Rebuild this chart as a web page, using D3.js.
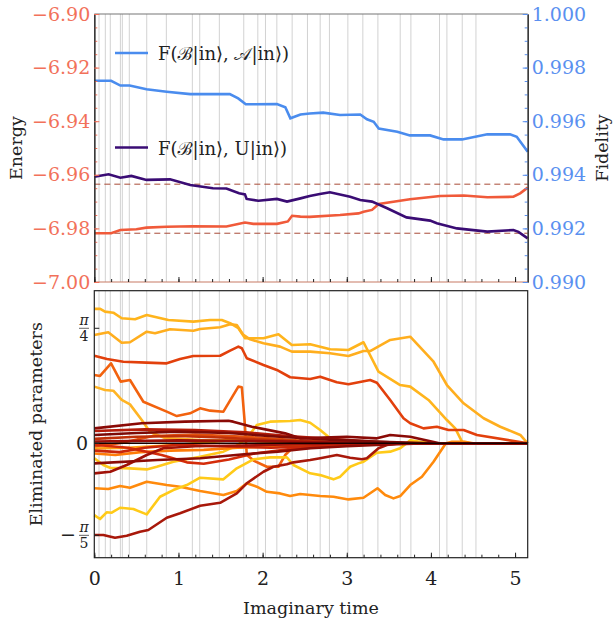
<!DOCTYPE html>
<html>
<head>
<meta charset="utf-8">
<script src="https://cdn.jsdelivr.net/npm/d3@7"></script>
<style>
  body { margin: 0; background: #fff; }
  svg { display: block; }
  text { font-family: "DejaVu Serif", "Liberation Serif", "Times New Roman", "Noto Serif", "Tinos", serif; }
</style>
</head>
<body>
<div id="chart"></div>
<script>
// ---- data ----
// top panel: energy (left axis) and two fidelities (right axis), [time, value]
const energyCurve = [[0,-6.9818],[0.2,-6.9818],[0.31,-6.9806],[0.5,-6.9803],[0.62,-6.9797],[0.86,-6.9794],[1.17,-6.9792],[1.57,-6.9793],[1.79,-6.9778],[1.89,-6.9783],[2.17,-6.9783],[2.30,-6.9774],[2.35,-6.9753],[2.45,-6.9756],[2.56,-6.9757],[2.92,-6.9750],[3.14,-6.9744],[3.2,-6.9738],[3.3,-6.9731],[3.38,-6.9709],[3.75,-6.9691],[4.11,-6.9679],[4.39,-6.9677],[4.67,-6.9684],[4.98,-6.9682],[5.06,-6.9669],[5.15,-6.9648]];
const fidelityBA = [[0,0.99751],[0.2,0.99751],[0.31,0.99733],[0.42,0.99733],[0.62,0.99719],[0.86,0.9971],[1.14,0.99701],[1.61,0.99701],[1.71,0.99685],[1.80,0.99663],[2.17,0.99664],[2.27,0.99652],[2.33,0.99611],[2.45,0.99625],[2.56,0.99629],[2.72,0.99632],[2.92,0.99623],[3.16,0.99625],[3.24,0.99607],[3.32,0.99598],[3.38,0.99573],[3.60,0.99561],[3.75,0.99547],[3.99,0.99547],[4.15,0.99532],[4.37,0.99532],[4.67,0.99551],[4.94,0.99551],[5.02,0.99542],[5.15,0.99486]];
const fidelityBU = [[0,0.99393],[0.17,0.99402],[0.31,0.99389],[0.44,0.99396],[0.62,0.99381],[0.90,0.99383],[1.14,0.99362],[1.41,0.9935],[1.57,0.99349],[1.72,0.99331],[1.79,0.99327],[1.81,0.9931],[1.95,0.99303],[2.17,0.9931],[2.29,0.993],[2.45,0.99312],[2.56,0.99321],[2.68,0.99328],[2.80,0.99335],[3.04,0.99318],[3.16,0.99306],[3.30,0.993],[3.48,0.99275],[3.71,0.99241],[3.99,0.99229],[4.07,0.99219],[4.31,0.992],[4.67,0.99188],[4.98,0.99194],[5.04,0.99187],[5.15,0.99163]];
const energyLevels = [-6.9635, -6.9818];
const legendLabels = ["F(\u212C|in\u27E9, \uD835\uDC9C|in\u27E9)", "F(\u212C|in\u27E9, U|in\u27E9)"];

// times where parameters were eliminated (grey vertical lines)
const eliminationTimes = [0.056,0.131,0.19,0.31,0.333,0.416,0.623,0.856,1.165,1.253,1.486,1.776,1.943,2.034,2.169,2.351,2.533,2.684,2.794,3.013,3.191,3.37,3.635,3.762,4.102,4.19,4.372,4.535];

// bottom panel: parameter trajectories, [time, value]
const paramCurves = [
  // yellow, top
  [[0,0.918],[0.07,0.918],[0.127,0.899],[0.226,0.892],[0.326,0.854],[0.484,0.847],[0.623,0.876],[0.88,0.842],[1.177,0.831],[1.376,0.842],[1.515,0.842],[1.614,0.82],[1.712,0.786],[1.792,0.717],[2.01,0.717],[2.188,0.745],[2.347,0.671],[2.565,0.676],[2.684,0.66],[2.803,0.642],[3.02,0.637],[3.199,0.69],[3.377,0.489],[3.635,0.398],[3.754,0.387],[3.971,0.296],[4.19,0.159],[4.289,0.102],[4.369,0.011],[4.47,0],[5.15,0]],
  // yellow, second
  [[0,0.74],[0.166,0.758],[0.326,0.687],[0.424,0.69],[0.623,0.762],[0.722,0.751],[0.9,0.779],[1.177,0.769],[1.257,0.781],[1.495,0.792],[1.614,0.813],[1.693,0.808],[1.772,0.74],[1.851,0.71],[2.01,0.683],[2.208,0.66],[2.347,0.626],[2.565,0.626],[2.8,0.615],[3.02,0.596],[3.199,0.63],[3.278,0.63],[3.516,0.706],[3.754,0.728],[4.031,0.557],[4.19,0.398],[4.388,0.273],[4.626,0.171],[4.824,0.113],[5.062,0.057],[5.15,0]],
  // red-orange
  [[0,0.598],[0.151,0.576],[0.345,0.557],[0.623,0.551],[0.861,0.546],[1.019,0.576],[1.177,0.596],[1.495,0.598],[1.614,0.633],[1.712,0.66],[1.753,0.649],[1.812,0.581],[2.01,0.535],[2.169,0.501],[2.327,0.451],[2.565,0.439],[2.684,0.455],[2.882,0.417],[3.02,0.403],[3.278,0.432],[3.358,0.414],[3.516,0.296],[3.674,0.171],[3.754,0.137],[3.912,0.102],[4.071,0.113],[4.209,0.091],[4.388,0.091],[4.547,0.057],[5.15,0]],
  // orange with spikes
  [[0,0.467],[0.068,0.46],[0.199,0.546],[0.314,0.421],[0.424,0.432],[0.583,0.284],[0.861,0.216],[0.98,0.186],[1.138,0.205],[1.257,0.239],[1.376,0.223],[1.534,0.216],[1.712,0.387],[1.753,0.383],[1.785,0.16],[1.812,-0.08],[1.9,-0.12],[2.05,-0.16],[2.188,-0.16],[2.268,-0.08],[2.387,-0.012],[2.7,0],[5.15,0]],
  // yellow-orange dropping into the bundle
  [[0,0.387],[0.127,0.364],[0.226,0.359],[0.326,0.296],[0.424,0.266],[0.564,0.159],[0.662,0.077],[0.84,0.036],[1.26,0.023],[2.0,0.018],[2.45,0.012],[2.8,0],[5.15,0]],
  // yellow crossing upward
  [[0,-0.102],[0.107,-0.148],[0.187,-0.167],[0.424,-0.171],[0.623,-0.178],[0.742,-0.16],[0.94,-0.126],[1.257,-0.092],[1.534,-0.057],[1.693,-0.016],[1.812,0.034],[1.931,0.125],[2.089,0.148],[2.327,0.152],[2.446,0.159],[2.565,0.14],[2.684,0.091],[2.803,0.034],[2.88,0],[5.15,0]],
  // orange, lower
  [[0,-0.307],[0.166,-0.312],[0.306,-0.292],[0.424,-0.303],[0.623,-0.262],[0.861,-0.285],[1.019,-0.296],[1.257,-0.326],[1.534,-0.353],[1.693,-0.326],[1.812,-0.273],[1.931,-0.296],[2.05,-0.331],[2.208,-0.342],[2.327,-0.36],[2.446,-0.346],[2.684,-0.36],[2.842,-0.365],[3.02,-0.383],[3.199,-0.372],[3.365,-0.307],[3.457,-0.353],[3.555,-0.376],[3.635,-0.36],[3.754,-0.285],[3.893,-0.228],[4.031,-0.126],[4.178,0],[4.25,0.01],[4.4,0.01],[4.5,0],[5.15,0]],
  // yellow, low
  [[0,-0.49],[0.068,-0.517],[0.147,-0.471],[0.207,-0.474],[0.306,-0.44],[0.464,-0.449],[0.623,-0.485],[0.781,-0.365],[0.939,-0.319],[1.099,-0.285],[1.257,-0.235],[1.534,-0.246],[1.693,-0.171],[1.891,-0.109],[2.089,-0.096],[2.288,-0.096],[2.366,-0.148],[2.565,-0.205],[2.684,-0.217],[2.842,-0.246],[2.922,-0.228],[3.04,-0.16],[3.139,-0.137],[3.199,-0.126],[3.358,-0.064],[3.516,-0.057],[3.635,-0.034],[3.754,0.02],[3.873,0.011],[4.05,0],[5.15,0]],
  // dark red, lowest
  [[0,-0.626],[0.107,-0.626],[0.246,-0.645],[0.385,-0.631],[0.543,-0.604],[0.642,-0.592],[0.861,-0.508],[1.019,-0.478],[1.257,-0.426],[1.495,-0.406],[1.693,-0.342],[1.812,-0.273],[2.01,-0.194],[2.128,-0.16],[2.288,-0.143],[2.366,-0.13],[2.565,-0.114],[2.684,-0.102],[2.882,-0.08],[3.04,-0.098],[3.18,-0.109],[3.239,-0.102],[3.377,-0.034],[3.477,-0.012],[3.63,0],[5.15,0]],
  // bundle near zero
  [[0,-0.07],[0.25,-0.08],[0.55,-0.06],[0.9,-0.05],[1.3,-0.045],[1.7,-0.03],[2.3,-0.02],[3,-0.01],[3.6,0],[5.15,0]],
  [[0,-0.035],[0.4,-0.03],[1.0,-0.01],[1.6,0.02],[2.2,0.01],[3,0],[5.15,0]],
  [[0,-0.02],[0.3,0.0],[0.7,0.05],[1.2,0.06],[1.8,0.045],[2.4,0.02],[3.0,0.005],[3.5,0],[5.15,0]],
  [[0,-0.01],[0.4,-0.03],[0.8,-0.08],[1.1,-0.13],[1.3,-0.14],[1.6,-0.11],[1.9,-0.07],[2.3,-0.04],[2.8,-0.02],[3.4,0],[5.15,0]],
  [[0,-0.05],[0.3,-0.06],[0.6,-0.03],[1.0,-0.01],[1.5,-0.02],[2.1,-0.03],[2.6,-0.02],[3.2,-0.01],[3.8,0],[5.15,0]],
  [[0,0.03],[0.5,0.045],[1.0,0.05],[1.5,0.04],[2.0,0.025],[2.6,0.012],[3.2,0],[5.15,0]],
  [[0,0.084],[0.6,0.095],[1.2,0.09],[1.8,0.075],[2.3,0.05],[2.8,0.03],[3.3,0.012],[3.8,0],[5.15,0]],
  [[0,-0.205],[0.19,-0.194],[0.385,-0.148],[0.623,-0.08],[0.82,-0.034],[1.2,-0.02],[2.0,-0.012],[3.0,0],[5.15,0]],
  [[0,-0.137],[0.75,-0.114],[1.26,-0.102],[1.78,-0.075],[2.18,-0.057],[2.57,-0.034],[3.0,-0.02],[3.5,-0.008],[4.0,0],[5.15,0]],
  [[0,0.012],[1,0.02],[2,0.015],[3,0.005],[3.5,0],[5.15,0]],
  [[0,0.057],[0.5,0.07],[1.0,0.08],[1.6,0.07],[2.2,0.045],[2.8,0.025],[3.4,0.01],[4.0,0],[5.15,0]],
  [[0,0.102],[0.564,0.137],[1.078,0.148],[1.593,0.154],[1.65,0.148],[1.872,0.113],[2.268,0.068],[2.446,0.034],[3.0,0.045],[3.358,0.034],[3.516,0.057],[3.754,0.045],[4.1,0],[5.15,0]],
  // parameter that stays at zero
  [[0,0],[5.15,0]]
];
const paramColors = ["#ffb41c","#ffae1e","#e2400c","#f2620e","#ffb424","#ffc81c","#ff8a0c","#ffca18","#a8180a",
  "#ff7c08","#ff9e14","#e4520e","#d42c0a","#c8260a","#c03008","#b41c0a","#a01208","#8c0c06","#9a0e08","#7c0a06","#8a0a06","#140000"];

const xTicksMajor = [0,1,2,3,4,5];
const energyTicks = [-7.00,-6.98,-6.96,-6.94,-6.92,-6.90];
const fidelityTicks = [0.990,0.992,0.994,0.996,0.998,1.000];

// ---- layout ----
const W = 615, H = 628;
const left = 94.3, right = 527.7;
const top1 = 14, bot1 = 282;
const top2 = 290.7, bot2 = 557.7;
const serif = '"DejaVu Serif", "Liberation Serif", "Times New Roman", "Noto Serif", "Tinos", serif';

const svg = d3.select('#chart').append('svg').attr('width', W).attr('height', H)
  .style('font-family', serif);

const x = d3.scaleLinear().domain([0, 5.15]).range([left, right]);
const yE = d3.scaleLinear().domain([-7.0, -6.9]).range([bot1, top1]);
const yF = d3.scaleLinear().domain([0.990, 1.000]).range([bot1, top1]);
const yP = d3.scaleLinear().domain([-0.781, 1.042]).range([bot2, top2]);

const energyColor = '#f05a3a', energyText = '#f2715a';
const fidColor = '#4a8cee', fidText = '#5a90f0';
const purple = '#3a0c74';

// grey elimination lines in both panels
[[top1, bot1], [top2, bot2]].forEach(([a, b]) => {
  svg.append('g').selectAll('line').data(eliminationTimes).join('line')
    .attr('x1', d => x(d)).attr('x2', d => x(d))
    .attr('y1', a).attr('y2', b)
    .attr('stroke', '#d2d2d2').attr('stroke-width', 1);
});

// ---- top panel ----
const gTop = svg.append('g');
gTop.selectAll('.lvl').data(energyLevels).join('line')
  .attr('x1', left).attr('x2', right)
  .attr('y1', d => yE(d)).attr('y2', d => yE(d))
  .attr('stroke', '#a84a36').attr('stroke-width', 1)
  .attr('stroke-dasharray', '6,4');

const lineE = d3.line().x(d => x(d[0])).y(d => yE(d[1]));
const lineF = d3.line().x(d => x(d[0])).y(d => yF(d[1]));

gTop.append('path').datum(energyCurve).attr('d', lineE)
  .attr('fill', 'none').attr('stroke', energyColor).attr('stroke-width', 2.6);
gTop.append('path').datum(fidelityBA).attr('d', lineF)
  .attr('fill', 'none').attr('stroke', fidColor).attr('stroke-width', 2.6);
gTop.append('path').datum(fidelityBU).attr('d', lineF)
  .attr('fill', 'none').attr('stroke', purple).attr('stroke-width', 2.6);

// frame of top panel
gTop.append('line').attr('x1', left).attr('x2', right).attr('y1', top1).attr('y2', top1)
  .attr('stroke', '#777').attr('stroke-width', 1.2);
gTop.append('line').attr('x1', left).attr('x2', right).attr('y1', bot1).attr('y2', bot1)
  .attr('stroke', '#c87a64').attr('stroke-width', 1.2);

function styleAxis(g, color, textColor, size) {
  g.attr('font-family', null);
  g.select('.domain').attr('stroke', color).attr('stroke-width', 1.2);
  g.selectAll('.tick line').attr('stroke', color);
  g.selectAll('.tick text').attr('fill', textColor)
    .style('font-family', serif)
    .style('font-size', size + 'px');
}

// left energy axis
const axE = gTop.append('g').attr('transform', `translate(${left},0)`)
  .call(d3.axisLeft(yE).tickValues(d3.range(-7.0, -6.899, 0.005)).tickSize(-3).tickSizeOuter(0).tickFormat(''));
styleAxis(axE, '#333', energyText, 19);
axE.selectAll('.tick line').attr('stroke', energyText);
const axE2 = gTop.append('g').attr('transform', `translate(${left},0)`)
  .call(d3.axisLeft(yE).tickValues(energyTicks).tickSize(-5).tickPadding(4).tickSizeOuter(0)
    .tickFormat(d => d3.format('.2f')(d).replace('-', '\u2212')));
styleAxis(axE2, '#333', energyText, 19);
axE2.selectAll('.tick line').attr('stroke', energyText);

// right fidelity axis
const axF = gTop.append('g').attr('transform', `translate(${right},0)`)
  .call(d3.axisRight(yF).tickValues(d3.range(0.990, 1.0001, 0.0005)).tickSize(-3).tickSizeOuter(0).tickFormat(''));
styleAxis(axF, '#333', fidText, 19);
axF.selectAll('.tick line').attr('stroke', fidText);
const axF2 = gTop.append('g').attr('transform', `translate(${right},0)`)
  .call(d3.axisRight(yF).tickValues(fidelityTicks).tickSize(-5).tickPadding(4).tickSizeOuter(0)
    .tickFormat(d3.format('.3f')));
styleAxis(axF2, '#333', fidText, 19);
axF2.selectAll('.tick line').attr('stroke', fidText);

// bottom ticks of top panel (inside, no labels)
const axT1 = gTop.append('g').attr('transform', `translate(0,${bot1})`)
  .call(d3.axisBottom(x).tickValues(d3.range(0, 5.15, 0.2)).tickSize(-3).tickSizeOuter(0).tickFormat(''));
axT1.select('.domain').remove();
axT1.selectAll('.tick line').attr('stroke', '#222');
const axT2 = gTop.append('g').attr('transform', `translate(0,${bot1})`)
  .call(d3.axisBottom(x).tickValues(xTicksMajor).tickSize(-5).tickSizeOuter(0).tickFormat(''));
axT2.select('.domain').remove();
axT2.selectAll('.tick line').attr('stroke', '#222');

// legend
const legend = gTop.append('g');
const legendItems = [{ c: fidColor, y: 53, t: legendLabels[0] }, { c: purple, y: 147.5, t: legendLabels[1] }];
legendItems.forEach(it => {
  legend.append('line').attr('x1', 115).attr('x2', 148).attr('y1', it.y).attr('y2', it.y)
    .attr('stroke', it.c).attr('stroke-width', 2.6);
  legend.append('text').attr('x', 158).attr('y', it.y + 7)
    .style('font-size', '18px').attr('fill', '#222').text(it.t);
});

// axis titles
svg.append('text').attr('transform', 'translate(22,148) rotate(-90)')
  .attr('text-anchor', 'middle').style('font-size', '17.5px').attr('fill', '#222').text('Energy');
svg.append('text').attr('transform', 'translate(608,148) rotate(-90)')
  .attr('text-anchor', 'middle').style('font-size', '17.5px').attr('fill', '#222').text('Fidelity');

// ---- bottom panel ----
const gBot = svg.append('g');
const lineP = d3.line().x(d => x(d[0])).y(d => yP(d[1]));
gBot.selectAll('.param').data(paramCurves).join('path')
  .attr('d', lineP).attr('fill', 'none')
  .attr('stroke', (d, i) => paramColors[i])
  .attr('stroke-width', (d, i) => i === paramCurves.length - 1 ? 1.4 : 2.6)
  .attr('stroke-linejoin', 'round');

gBot.append('rect').attr('x', left).attr('y', top2).attr('width', right - left).attr('height', bot2 - top2)
  .attr('fill', 'none').attr('stroke', '#222').attr('stroke-width', 1.2);

const axB1 = gBot.append('g').attr('transform', `translate(0,${bot2})`)
  .call(d3.axisBottom(x).tickValues(d3.range(0, 5.15, 0.2)).tickSize(-3).tickSizeOuter(0).tickFormat(''));
axB1.select('.domain').remove();
axB1.selectAll('.tick line').attr('stroke', '#222');
const axB2 = gBot.append('g').attr('transform', `translate(0,${bot2})`)
  .call(d3.axisBottom(x).tickValues(xTicksMajor).tickSize(-5).tickPadding(14).tickSizeOuter(0).tickFormat(d3.format('d')));
axB2.select('.domain').remove();
styleAxis(axB2, '#222', '#222', 19);

// left axis of bottom panel: 0, pi/4, -pi/5
const piTicks = [Math.PI / 4, 0, -Math.PI / 5];
gBot.selectAll('.pt').data(piTicks).join('line')
  .attr('x1', left).attr('x2', left + 5)
  .attr('y1', d => yP(d)).attr('y2', d => yP(d))
  .attr('stroke', '#222').attr('stroke-width', 1);
gBot.append('text').attr('x', 88).attr('y', yP(0) + 7).attr('text-anchor', 'end')
  .style('font-size', '19px').attr('fill', '#222').text('0');
function fracLabel(v, denom, neg) {
  const y0 = yP(v);
  const cx = 84;
  gBot.append('text').attr('x', cx).attr('y', y0 - 3).attr('text-anchor', 'middle')
    .style('font-size', '14px').style('font-style', 'italic').attr('fill', '#222').text('\u03C0');
  gBot.append('line').attr('x1', cx - 5).attr('x2', cx + 5).attr('y1', y0).attr('y2', y0)
    .attr('stroke', '#222').attr('stroke-width', 0.7);
  gBot.append('text').attr('x', cx).attr('y', y0 + 13).attr('text-anchor', 'middle')
    .style('font-size', '14px').attr('fill', '#222').text(denom);
  if (neg) {
    gBot.append('text').attr('x', cx - 8).attr('y', y0 + 6).attr('text-anchor', 'end')
      .style('font-size', '19px').attr('fill', '#222').text('\u2212');
  }
}
fracLabel(Math.PI / 4, '4', false);
fracLabel(-Math.PI / 5, '5', true);

svg.append('text').attr('transform', `translate(42,${(top2 + bot2) / 2}) rotate(-90)`)
  .attr('text-anchor', 'middle').style('font-size', '17.5px').attr('fill', '#222').text('Eliminated parameters');
svg.append('text').attr('x', (left + right) / 2).attr('y', 614)
  .attr('text-anchor', 'middle').style('font-size', '17.5px').attr('fill', '#222').text('Imaginary time');
</script>
</body>
</html>
